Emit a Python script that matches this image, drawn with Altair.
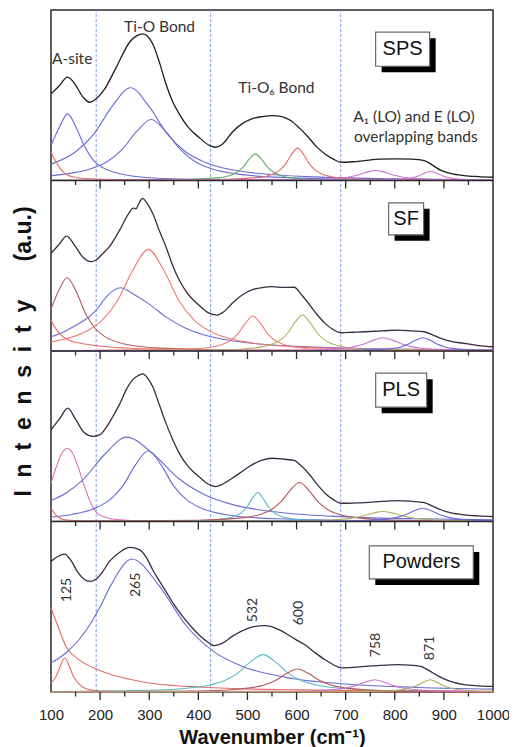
import altair as alt
import pandas as pd

# ---------------- data ----------------
panel_names = ["SPS", "SF", "PLS", "Powders"]          # top to bottom
panel_offsets = [300, 200, 100, 0]                      # stacking offsets (a.u.)

sps_spectrum = [(100,50.8),(115,55),(134,60.6),(150,56),(165,49),(179,45.9),(192,47.9),(210,54),
                (233,66.5),(260,81.1),(275,85),(287,86.0),(297,84.5),(307,80.2),(320,70),(334,56.7),
                (348,46),(361,39.1),(380,31),(401,25.4),(420,21),(435,19.5),(450,21.5),(469,28.3),
                (490,33.5),(509,36.2),(530,37.5),(550,38.1),(570,37.5),(588,35.2),(605,31),(624,25.4),
                (640,20),(658,15.6),(675,12.5),(691,10.7),(715,11),(739,11.7),(770,12.5),(806,12.7),
                (835,12.5),(860,11.7),(877,9),(894,5.9),(915,4),(941,2.9),(970,2.3),(1000,1.9)]
sf_spectrum = [(100,57.3),(115,62),(132,67.4),(148,62),(165,55),(182,52.4),(192,53.4),(205,57),
               (219,61.2),(240,71),(260,81.5),(267,83.8),(273,83.4),(279,86.5),(286,89.5),(296,86.5),
               (307,80.8),(320,71),(334,61.2),(348,50),(361,41.6),(380,33),(401,27.0),(420,22.5),
               (438,21.1),(452,23),(469,28.0),(490,33),(509,35.8),(530,37.2),(550,37.7),(575,37.3),
               (595,37.4),(610,33),(624,28.0),(640,22),(658,16.2),(675,12.5),(691,10.7),(715,11),
               (739,11.3),(775,11.8),(806,12.3),(835,11.8),(860,11.3),(877,9.5),(894,7.4),(915,5.6),
               (941,4.5),(970,3.2),(1000,2.5)]
pls_spectrum = [(100,53.8),(117,60),(134,66.5),(150,60),(168,52),(186,49.9),(199,50.8),(212,55),
                (226,61.6),(240,69),(253,77.2),(266,83.1),(277,85.5),(287,86.6),(297,84),(307,79.2),
                (320,69),(334,57.7),(348,48),(361,40.1),(380,32),(401,26.4),(420,22),(435,20.5),
                (450,22),(469,25.4),(490,29.5),(509,33.2),(530,36),(550,37.1),(575,36.5),(595,35.8),
                (610,32.5),(624,28.3),(640,22.5),(658,16.6),(675,12.8),(691,10.7),(715,10.8),(739,11.1),
                (775,11.8),(806,12.3),(835,11.8),(860,11.1),(877,9),(894,6.9),(915,5),(941,3.9),
                (970,3.3),(1000,2.9)]
pow_spectrum = [(100,76.6),(114,79.5),(128,80.9),(140,77.5),(155,70),(168,66),(179,64.9),(192,66.3),
                (205,70.5),(219,76.6),(240,82),(260,84.8),(280,83.5),(295,78.5),(307,71.7),(320,65.5),
                (334,59.0),(350,51.5),(368,44.3),(385,38.5),(401,33.6),(417,29.8),(432,27.2),(450,28.8),
                (469,32.6),(490,36),(509,38.1),(536,38.9),(557,37.5),(577,34.6),(597,31),(617,27.7),
                (638,23),(658,18.9),(675,16),(691,14.1),(715,14.5),(739,15.0),(770,15.6),(806,16.0),
                (830,15.8),(853,15.0),(870,12.5),(887,9.6),(910,6.5),(941,4.3),(970,3.6),(1000,3.3)]

BLUE, RED, GREEN, MAGENTA = "#6b6bd6", "#e86a64", "#62b06e", "#d070d4"
BROWN, TEAL, OLIVE, PINK, SALMON = "#b45a5c", "#5ab8c6", "#b4ae5a", "#e070b8", "#ec7c72"

sps_components = [
    (BLUE, [(100,20.5),(117,31.3),(134,39.1),(151,31.3),(169,19.6),(186,12.0),(204,7.8),(239,4.1),
            (309,1.5),(400,0.7),(600,0.2),(1000,0.05)]),
    (BLUE, [(100,9.6),(149.5,16.7),(187,27.2),(224.5,43.5),(262,54.4),(299.5,43.5),(337,27.2),
            (374.5,16.7),(412,10.9),(487,5.4),(637,2.1),(800,1.04),(1000,0.56)]),
    (BLUE, [(100,2.85),(124,3.6),(184,7.2),(214,11.0),(244,17.9),(274,28.6),(304,35.8),(334,28.6),
            (364,17.9),(394,11.0),(424,7.2),(484,3.6),(604,1.4),(800,0.52),(1000,0.26)]),
    (RED, [(100,16.6),(110,11),(120,6.5),(132,3.5),(150,1.8),(180,1.0),(250,0.5),(400,0.2),(1000,0.05)]),
    (GREEN, [(100,0.05),(300,0.1),(441,1.56),(466,3.1),(478.5,4.8),(491,7.8),(503.5,12.5),(516,15.6),
             (528.5,12.5),(541,7.8),(553.5,4.8),(566,3.1),(591,1.56),(641,0.6),(766,0.15),(1000,0.05)]),
    (RED, [(100,0.05),(400,0.25),(527,1.9),(552,3.8),(564.5,5.8),(577,9.5),(589.5,15.2),(602,19),
           (614.5,15.2),(627,9.5),(639.5,5.8),(652,3.8),(677,1.9),(727,0.73),(852,0.18),(1000,0.07)]),
    (MAGENTA, [(100,0.02),(600,0.5),(641,0.59),(681,1.18),(701,1.8),(721,2.95),(741,4.7),(761,5.9),
               (781,4.7),(801,2.95),(821,1.8),(841,1.18),(881,0.59),(1000,0.15)]),
    (MAGENTA, [(100,0.0),(700,0.1),(798,0.53),(823,1.06),(835.5,1.6),(848,2.65),(860.5,4.24),(873,5.3),
               (885.5,4.24),(898,2.65),(910.5,1.6),(923,1.06),(948,0.53),(1000,0.2)]),
]
sf_components = [
    (BROWN, [(100,24.5),(114,34.4),(133,43),(152,34.4),(171,21.5),(190,13.2),(209,8.6),(247,4.3),
             (323,1.7),(500,0.45),(1000,0.08)]),
    (BLUE, [(100,8.3),(125,11),(150,15),(175,19.5),(192,24),(215,32.5),(241,37.1),(270,33),(300,27.5),
            (334,20),(370,14),(401,10.4),(450,6.9),(500,4.8),(600,2.7),(800,1.15),(1000,0.65)]),
    (SALMON, [(100,5.3),(112,5.96),(174,11.9),(205,18.3),(236,29.8),(267,47.7),(298,59.6),(329,47.7),
              (360,29.8),(391,18.3),(422,11.9),(484,5.96),(608,2.3),(800,0.9),(1000,0.46)]),
    (RED, [(100,18.2),(110,13),(120,9.5),(135,6.5),(160,4.5),(192,3.1),(250,1.8),(350,1.0),(500,0.5),
           (1000,0.15)]),
    (SALMON, [(100,0.1),(400,1.4),(421,2.05),(451,4.1),(466,6.3),(481,10.25),(496,16.4),(511,20.5),
              (526,16.4),(541,10.25),(556,6.3),(571,4.1),(601,2.05),(661,0.77),(800,0.22),(1000,0.08)]),
    (OLIVE, [(100,0.07),(450,0.7),(522,2.1),(552,4.2),(567,6.5),(582,10.55),(597,16.9),(612,21.1),
             (627,16.9),(642,10.55),(657,6.5),(672,4.2),(702,2.1),(762,0.8),(900,0.25),(1000,0.12)]),
    (MAGENTA, [(100,0.03),(600,0.4),(656,0.78),(696,1.56),(716,2.4),(736,3.9),(756,6.24),(776,7.8),
               (796,6.24),(816,3.9),(836,2.4),(856,1.56),(896,0.78),(1000,0.25)]),
    (BLUE, [(100,0.01),(650,0.16),(767,0.78),(797,1.56),(812,2.4),(827,3.9),(842,6.24),(857,7.8),
            (872,6.24),(887,3.9),(902,2.4),(917,1.56),(947,0.78),(1000,0.4)]),
]
pls_components = [
    (PINK, [(100,22.5),(110,31.4),(120,38.9),(133,43),(146,38.9),(156,31.4),(166,22.5),(176,14.3),
            (186,8.1),(196,4.3),(211,2.5),(233,1.2),(300,0.4),(500,0.1),(1000,0.02)]),
    (BLUE, [(100,12.3),(130,16.6),(166,24.75),(210,39.6),(254,49.5),(308,39.6),(362,24.75),(416,15.2),
            (470,9.9),(578,4.95),(700,2.74),(850,1.57),(1000,1.02)]),
    (BLUE, [(100,2.68),(142,4.15),(194,8.3),(220,12.8),(246,20.75),(272,33.2),(298,41.5),(324,33.2),
            (350,20.75),(376,12.8),(402,8.3),(454,4.15),(558,1.6),(800,0.44),(1000,0.23)]),
    (RED, [(100,7.8),(108,4.5),(115,2.5),(125,1.2),(150,0.5),(250,0.2),(1000,0.05)]),
    (TEAL, [(100,0.03),(400,0.5),(455,1.7),(477,3.4),(488,5.2),(499,8.5),(510,13.6),(521,17),(532,13.6),
            (543,8.5),(554,5.2),(565,3.4),(587,1.7),(631,0.65),(800,0.1),(1000,0.05)]),
    (BROWN, [(100,0.13),(400,0.75),(492,2.29),(530,4.58),(549,7.05),(568,11.45),(587,18.3),(606,22.9),
             (625,18.3),(644,11.45),(663,7.05),(682,4.58),(720,2.29),(796,0.87),(1000,0.2)]),
    (OLIVE, [(100,0.03),(600,0.5),(641,0.59),(686,1.18),(708.5,1.8),(731,2.95),(753.5,4.72),(776,5.9),
             (798.5,4.72),(821,2.95),(843.5,1.8),(866,1.18),(911,0.59),(1000,0.3)]),
    (BLUE, [(100,0.01),(650,0.22),(752,0.78),(787,1.56),(804.5,2.4),(822,3.9),(839.5,6.24),(857,7.8),
            (874.5,6.24),(892,3.9),(909.5,2.4),(927,1.56),(962,0.78),(1000,0.55)]),
]
pow_components = [
    (RED, [(100,49.3),(115,38),(132,26),(150,20.5),(170,16.5),(192,13.5),(225,10),(260,7.5),(300,5.3),
           (350,3.8),(400,2.9),(500,1.8),(600,1.25),(800,0.7),(1000,0.45)]),
    (RED, [(100,5.3),(110,9),(118,14.5),(128,19.9),(138,14.5),(146,9),(156,5),(170,2),(190,0.8),
           (250,0.3),(1000,0.02)]),
    (BLUE, [(100,17),(130,22.9),(156.5,30.5),(178,39),(200,50),(221.5,62.4),(265,78),(320,62.4),
            (375,39),(430,24),(485,15.6),(595,7.8),(700,4.7),(850,2.66),(1000,1.71)]),
    (TEAL, [(100,0.3),(300,1.0),(375.5,2.19),(427.5,4.38),(453.5,6.74),(479.5,10.95),(505.5,17.5),
            (531.5,21.9),(557.5,17.5),(583.5,10.95),(609.5,6.74),(635.5,4.38),(687.5,2.19),(800,0.79),
            (1000,0.27)]),
    (BROWN, [(100,0.11),(400,0.63),(467,1.35),(512,2.7),(534.5,4.15),(557,6.75),(579.5,10.8),(602,13.5),
             (624.5,10.8),(647,6.75),(669.5,4.15),(692,2.7),(737,1.35),(827,0.5),(1000,0.17)]),
    (MAGENTA, [(100,0.03),(600,0.43),(639,0.72),(679,1.44),(699,2.2),(719,3.6),(739,5.76),(759,7.2),
               (779,5.76),(799,3.6),(819,2.2),(839,1.44),(879,0.72),(1000,0.2)]),
    (OLIVE, [(100,0.01),(700,0.18),(788,0.72),(816,1.44),(830,2.2),(844,3.6),(858,5.76),(872,7.2),
             (886,5.76),(900,3.6),(914,2.2),(928,1.44),(956,0.72),(1000,0.28)]),
]

spectra = [sps_spectrum, sf_spectrum, pls_spectrum, pow_spectrum]
spectrum_colors = ["#1e1e1e", "#3a2a42", "#3a2a42", "#3a2a42"]
components = [sps_components, sf_components, pls_components, pow_components]

dashed_x = [192, 425, 690]
x_tick_labels = [100, 200, 300, 400, 500, 600, 700, 800, 900, 1000]
major_ticks = [200, 300, 400, 500, 600, 700, 800, 900]
minor_ticks = [150, 250, 350, 450, 550, 650, 750, 850, 950]

# annotations (position in data coordinates)
top_notes = [("A-site", 143, 371), ("Ti-O Bond", 321, 390), ("Ti-O\u2086 Bond", 559, 354),
             ("A\u2081 (LO) and E (LO)", 839, 337), ("overlapping bands", 843, 325.5)]
peak_notes = [("125", 132, 59.8), ("265", 274, 62.8), ("532", 511, 48.1),
              ("600", 604, 46.3), ("758", 761, 27.6), ("871", 871, 25.8)]
# panel label boxes: name, x centre, y centre, box width px, box height px
label_boxes = [("SPS", 816, 377, 54, 34), ("SF", 823, 277.5, 35, 32),
               ("PLS", 813, 177, 51, 34), ("Powders", 854, 76, 104, 33)]

NB = "\u00a0"
y_title = (NB * 2).join("Intensity") + NB * 6 + "(a.u.)"

# ---------------- build tables ----------------
W, H = 442, 682
Y_MAX = 400
PX = H / Y_MAX  # px per unit

rows = []
for p, (name, off) in enumerate(zip(panel_names, panel_offsets)):
    for k, (col, pts) in enumerate(components[p]):
        for x, y in pts:
            rows.append({"x": x, "y": y + off, "id": f"{name}-c{k}", "color": col})
comp_df = pd.DataFrame(rows)

rows = []
for p, (name, off) in enumerate(zip(panel_names, panel_offsets)):
    for x, y in spectra[p]:
        rows.append({"x": x, "y": y + off, "id": f"{name}-s", "color": spectrum_colors[p]})
spec_df = pd.DataFrame(rows)

tick_rows = []
for b in [0, 100, 200, 300]:
    for t in major_ticks:
        tick_rows.append({"x": t, "y": b, "y2": b - 8 / PX})
    for t in minor_ticks:
        tick_rows.append({"x": t, "y": b, "y2": b - 4.5 / PX})
tick_df = pd.DataFrame(tick_rows)

xs = alt.Scale(domain=[100, 1000], nice=False, zero=False)
ys = alt.Scale(domain=[0, Y_MAX], nice=False, zero=False)

base_axis_x = alt.Axis(values=x_tick_labels, format="d", ticks=False, domain=False, grid=False,
                       labelFlush=False, labelFontSize=15, labelFont="Liberation Sans",
                       labelColor="#222", labelPadding=15,
                       title="Wavenumber (cm\u207b\u00b9)", titleFontSize=20, titleFont="Liberation Sans",
                       titleFontWeight="bold", titleColor="#111", titlePadding=5)
base_axis_y = alt.Axis(labels=False, ticks=False, domain=False, grid=False,
                       title=y_title, titleFontSize=23, titleFont="Liberation Sans",
                       titleFontWeight="bold", titleColor="#111", titlePadding=16)

dash_df = pd.DataFrame({"x": dashed_x})
dashed = alt.Chart(dash_df).mark_rule(color="#7c9be0", strokeDash=[3, 2], strokeWidth=1).encode(
    x=alt.X("x:Q", scale=xs, axis=base_axis_x),
    y=alt.YDatum(0),
    y2=alt.datum(Y_MAX),
)

comp_lines = alt.Chart(comp_df).mark_line(strokeWidth=1.1, interpolate="monotone").encode(
    x=alt.X("x:Q", scale=xs),
    y=alt.Y("y:Q", scale=ys, axis=base_axis_y),
    detail="id:N",
    color=alt.Color("color:N", scale=None),
)
spec_lines = alt.Chart(spec_df).mark_line(strokeWidth=1.3, interpolate="monotone").encode(
    x=alt.X("x:Q", scale=xs),
    y=alt.Y("y:Q", scale=ys),
    detail="id:N",
    color=alt.Color("color:N", scale=None),
)

bound_df = pd.DataFrame({"y": [100, 200, 300]})
bounds = alt.Chart(bound_df).mark_rule(color="#2a2a2a", strokeWidth=1.5).encode(
    y="y:Q", x=alt.datum(100), x2=alt.datum(1000))

ticks = alt.Chart(tick_df).mark_rule(color="#2a2a2a", strokeWidth=1.3).encode(
    x="x:Q", y="y:Q", y2="y2:Q")

notes_df = pd.DataFrame(top_notes, columns=["text", "x", "y"])
notes = alt.Chart(notes_df).mark_text(font="Lato", fontSize=15.5, color="#333").encode(
    x="x:Q", y="y:Q", text="text:N")

peaks_df = pd.DataFrame(peak_notes, columns=["text", "x", "y"])
peaks = alt.Chart(peaks_df).mark_text(font="Lato", fontSize=14, color="#333", angle=270).encode(
    x="x:Q", y="y:Q", text="text:N")

layers = [dashed, comp_lines, spec_lines, bounds, ticks, notes, peaks]
for name, cx, cy, bw, bh in label_boxes:
    r = bh / bw
    path = f"M-1,{-r:.3f}H1V{r:.3f}H-1Z"
    df = pd.DataFrame({"x": [cx], "y": [cy], "text": [name]})
    shadow = alt.Chart(df).mark_point(shape=path, size=bw * bw, filled=True, fill="#000", opacity=1,
                                      xOffset=6, yOffset=6, strokeWidth=0).encode(x="x:Q", y="y:Q")
    box = alt.Chart(df).mark_point(shape=path, size=bw * bw, filled=True, fill="#fff", opacity=1,
                                   stroke="#6a6a6a", strokeWidth=1.2).encode(x="x:Q", y="y:Q")
    txt = alt.Chart(df).mark_text(font="Liberation Sans", fontSize=20, color="#111").encode(
        x="x:Q", y="y:Q", text="text:N")
    layers += [shadow, box, txt]

chart = alt.layer(*layers).properties(
    width=W, height=H,
    padding={"left": 43, "top": 2, "right": 16, "bottom": 55},
    autosize=alt.AutoSizeParams(type="none"),
    background="white",
).configure_view(stroke="#2a2a2a", strokeWidth=1.5)

chart.save("out.html", embed_options={"renderer": "svg", "actions": False})
